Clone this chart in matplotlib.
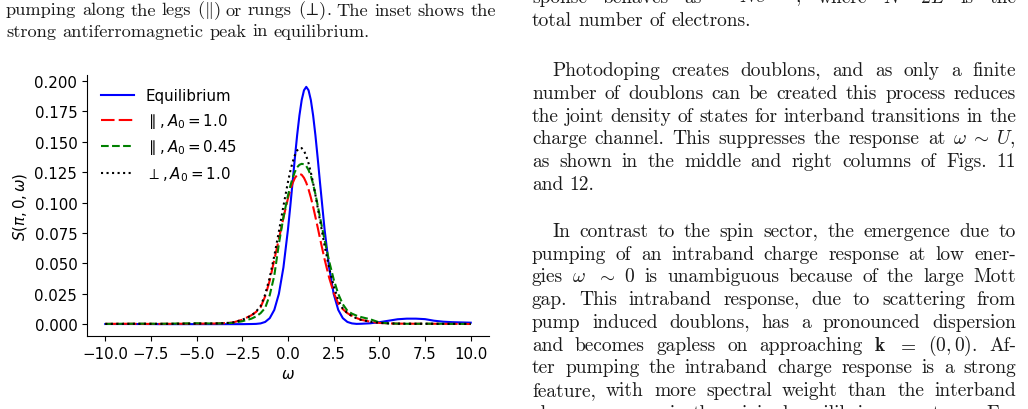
import matplotlib
matplotlib.use('Agg')
import matplotlib.pyplot as plt
from matplotlib.ticker import MultipleLocator

W, H = 1028, 410

# frequency grid and spectra
omega = [-10, -9, -8, -7, -6, -5, -4, -3.5, -3, -2.5, -2, -1.75, -1.5, -1.25, -1,
         -0.75, -0.5, -0.25, 0, 0.125, 0.25, 0.375, 0.5, 0.625, 0.75, 0.875, 1,
         1.125, 1.25, 1.375, 1.5, 1.625, 1.75, 2, 2.25, 2.5, 2.75, 3, 3.25, 3.5,
         3.75, 4, 4.5, 5, 5.5, 6, 6.5, 7, 7.5, 8, 8.5, 9, 10]

s_eq = [0.0003, 0.0003, 0.0003, 0.0002, 0.0002, 0.0002, 0.0002, 0.0002, 0.0002, 0.0002,
        0.0003, 0.0004, 0.0008, 0.0020, 0.0051, 0.0119, 0.0250, 0.0468, 0.0782, 0.0969,
        0.1166, 0.1365, 0.1553, 0.1715, 0.1842, 0.1922, 0.1950, 0.1922, 0.1842, 0.1715,
        0.1553, 0.1365, 0.1166, 0.0782, 0.0468, 0.0250, 0.0119, 0.0051, 0.0020, 0.0008,
        0.0004, 0.0005, 0.0009, 0.0018, 0.0030, 0.0042, 0.0047, 0.0047, 0.0043, 0.0030,
        0.0022, 0.0018, 0.0014]

s_par10 = [0.0004, 0.0005, 0.0004, 0.0004, 0.0005, 0.0006, 0.0007, 0.0010, 0.0016, 0.0038,
           0.0075, 0.0102, 0.0140, 0.0230, 0.0360, 0.0530, 0.0700, 0.0875, 0.1036, 0.1104,
           0.1159, 0.1201, 0.1227, 0.1236, 0.1228, 0.1203, 0.1163, 0.1108, 0.1042, 0.0966,
           0.0882, 0.0796, 0.0707, 0.0536, 0.0384, 0.0261, 0.0170, 0.0125, 0.0092, 0.0070,
           0.0052, 0.0038, 0.0022, 0.0012, 0.0008, 0.0006, 0.0006, 0.0005, 0.0005, 0.0005,
           0.0004, 0.0004, 0.0003]

s_par045 = [0.0004, 0.0005, 0.0006, 0.0005, 0.0007, 0.0009, 0.0007, 0.0009, 0.0013, 0.0026,
            0.0047, 0.0065, 0.0092, 0.0135, 0.0240, 0.0400, 0.0660, 0.0880, 0.1060, 0.1135,
            0.1200, 0.1252, 0.1290, 0.1310, 0.1318, 0.1315, 0.1300, 0.1267, 0.1220, 0.1152,
            0.1070, 0.0978, 0.0880, 0.0695, 0.0520, 0.0370, 0.0250, 0.0165, 0.0112, 0.0088,
            0.0072, 0.0060, 0.0042, 0.0016, 0.0008, 0.0006, 0.0005, 0.0005, 0.0006, 0.0005,
            0.0005, 0.0004, 0.0004]

s_perp10 = [0.0004, 0.0004, 0.0005, 0.0004, 0.0005, 0.0006, 0.0007, 0.0010, 0.0016, 0.0038,
            0.0072, 0.0105, 0.0150, 0.0245, 0.0385, 0.0563, 0.0762, 0.0972, 0.1171, 0.1258,
            0.1331, 0.1389, 0.1428, 0.1448, 0.1447, 0.1425, 0.1383, 0.1323, 0.1248, 0.1160,
            0.1063, 0.0959, 0.0854, 0.0648, 0.0464, 0.0314, 0.0200, 0.0130, 0.0092, 0.0068,
            0.0050, 0.0037, 0.0022, 0.0012, 0.0008, 0.0006, 0.0005, 0.0005, 0.0005, 0.0005,
            0.0004, 0.0004, 0.0004]

labels = ['Equilibrium', r'$\parallel, A_0 = 1.0$', r'$\parallel, A_0 = 0.45$',
          r'$\perp, A_0 = 1.0$']

# surrounding page text: (line, baseline px, [indent], justified)
caption = [
    (r"pumping along the legs ($\Vert$) or rungs ($\!\perp\!$). The inset shows the", 15.5, True),
    ("strong antiferromagnetic peak in equilibrium.", 36.5, False),
]
body = [
    (r"sponse behaves as $\sim Ne^{-\alpha L}$, where $N=2L$ is the", 2.7, 0, True),
    ("total number of electrons.", 25.5, 0, False),
    ("Photodoping creates doublons, and as only a finite", 76.0, 20, True),
    ("number of doublons can be created this process reduces", 98.8, 0, True),
    ("the joint density of states for interband transitions in the", 121.6, 0, True),
    (r"charge channel. This suppresses the response at $\omega\;\sim\;U$,", 144.4, 0, True),
    ("as shown in the middle and right columns of Figs. 11", 167.2, 0, True),
    ("and 12.", 190.0, 0, False),
    ("In contrast to the spin sector, the emergence due to", 236.7, 20, True),
    ("pumping of an intraband charge response at low ener-", 259.5, 0, True),
    (r"gies $\omega$ $\sim$ $0$ is unambiguous because of the large Mott", 282.3, 0, True),
    ("gap. This intraband response, due to scattering from", 305.1, 0, True),
    ("pump induced doublons, has a pronounced dispersion", 327.9, 0, True),
    (r"and becomes gapless on approaching $\mathbf{k}$ $=$ $(0,0)$. Af-", 350.7, 0, True),
    ("ter pumping the intraband charge response is a strong", 373.5, 0, True),
    ("feature, with more spectral weight than the interband", 396.3, 0, True),
    ("charge response in the original equilibrium spectrum. For", 419.1, 0, True),
]

plt.rcParams['font.size'] = 10.8

fig = plt.figure(figsize=(W / 100, H / 100), dpi=100)
ax = fig.add_axes([87 / W, 1 - 337 / H, 402 / W, 261 / H])

ax.plot(omega, s_eq, 'b-', lw=1.5, label=labels[0])
ax.plot(omega, s_par10, color='r', ls=(0, (6.5, 2)), lw=1.5, label=labels[1])
ax.plot(omega, s_par045, 'g--', lw=1.5, label=labels[2])
ax.plot(omega, s_perp10, 'k:', lw=1.5, label=labels[3])

ax.xaxis.set_major_locator(MultipleLocator(2.5))
ax.yaxis.set_major_locator(MultipleLocator(0.025))
ax.spines[['top', 'right']].set_visible(False)
ax.set_xlabel(r'$\omega$')
ax.set_ylabel(r'$S(\pi, 0, \omega)$')
ax.legend(loc='upper left', frameon=False, handlelength=2.2)

rend = fig.canvas.get_renderer()


def split_words(line):
    # split on spaces that are not inside $...$
    words, cur, in_math = [], '', False
    for ch in line:
        if ch == '$':
            in_math = not in_math
        if ch == ' ' and not in_math:
            words.append(cur)
            cur = ''
        else:
            cur += ch
    words.append(cur)
    return words


def put_line(line, x0, x1, yb, size, justify):
    words = split_words(line)
    ts = [fig.text(0, 1 - yb / H, w, fontsize=size, family='cmr10',
                   math_fontfamily='cm', va='baseline', ha='left', color='#1a1a1a')
          for w in words]
    ws = [t.get_window_extent(rend).width for t in ts]
    if justify and len(ts) > 1:
        gap = (x1 - x0 - sum(ws)) / (len(ts) - 1)
    else:
        gap = size * 100 / 72 * 0.333
    x = x0
    for t, w in zip(ts, ws):
        t.set_x(x / W)
        x += w + gap


for line, yb, just in caption:
    put_line(line, 6, 496, yb, 13.2, just)

for line, yb, ind, just in body:
    put_line(line, 532 + ind, 1016, yb, 14.0, just)

fig.savefig('out.png', dpi=100)
